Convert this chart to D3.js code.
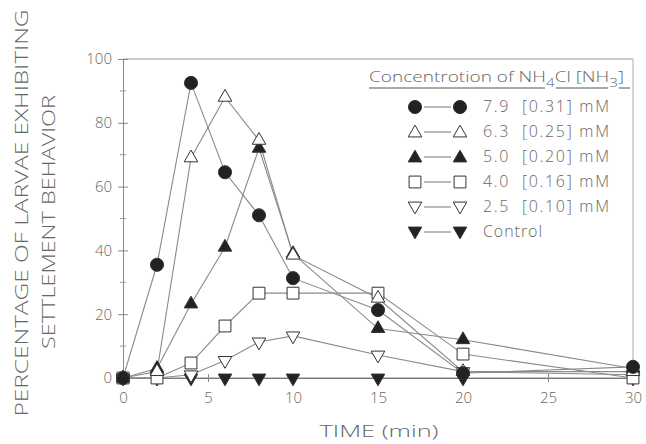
<!DOCTYPE html>
<html><head><meta charset="utf-8">
<script src="https://cdn.jsdelivr.net/npm/d3@7"></script>
<style>
html,body{margin:0;padding:0;background:#fff;}
svg text{font-family:"DejaVu Sans",sans-serif;fill:#5a5a5a;}
svg text.light{font-family:"Open Sans","Lato",sans-serif;font-weight:300;fill:#666;}
</style></head>
<body><svg id="c" width="646" height="444"></svg>
<script>
// ---- data ----
const times = [0, 2, 4, 6, 8, 10, 15, 20, 30];
const s79 = [0, 35.5, 92.5, 64.5, 51, 31.3, 21.3, 1.5, 3.5];
const s63 = [0, 2, 69, 88, 74.5, 38.5, 25, 2, 2];
const s50 = [0, 3, 23.2, 41, 72, 39, 15.5, 12, 3];
const s40 = [0, 0, 4.7, 16.3, 26.6, 26.6, 26.6, 7.5, 0];
const s25 = [0, 0, 1, 5.5, 11.3, 13.2, 7.2, 2, 1];
const sCtrl = [0, 0, 0, 0, 0, 0, 0, 0, 0];
const legendLabels = ["7.9  [0.31] mM", "6.3  [0.25] mM", "5.0  [0.20] mM", "4.0  [0.16] mM", "2.5  [0.10] mM", "Control"];
const xTicks = [0, 5, 10, 15, 20, 25, 30];
const yTicks = [0, 20, 40, 60, 80, 100];
const yMinor = [10, 30, 50, 70, 90];

// layout (not data)
const legendTextWidths = [126, 126, 126, 126, 126, 59];

const series = [
  {vals: s79, sym: d3.symbolCircle, size: 135, fill: "#222", rot: 0},
  {vals: s63, sym: d3.symbolTriangle, size: 80, fill: "#fff", rot: 0},
  {vals: s50, sym: d3.symbolTriangle, size: 80, fill: "#222", rot: 0},
  {vals: s40, sym: d3.symbolSquare, size: 140, fill: "#fff", rot: 0},
  {vals: s25, sym: d3.symbolTriangle, size: 80, fill: "#fff", rot: 180},
  {vals: sCtrl, sym: d3.symbolTriangle, size: 80, fill: "#222", rot: 180}
];

const svg = d3.select("#c");
const x = d3.scaleLinear().domain([0, 30]).range([123, 633]);
const y = d3.scaleLinear().domain([0, 100]).range([378, 59]);

// frame
svg.append("line").attr("x1", x(0)).attr("x2", x(30)).attr("y1", y(100)).attr("y2", y(100)).attr("stroke", "#999").attr("stroke-width", 1);
svg.append("line").attr("x1", x(30)).attr("x2", x(30)).attr("y1", y(100)).attr("y2", y(0)).attr("stroke", "#aaa").attr("stroke-width", 1);

// y axis
const gy = svg.append("g").attr("transform", `translate(${x(0)},0)`);
gy.call(d3.axisLeft(y).tickValues(yTicks).tickSize(5).tickPadding(6).tickFormat(d3.format("d")));
gy.select(".domain").attr("stroke", "#888");
gy.selectAll(".tick line").attr("stroke", "#888").attr("x1", 5);
gy.selectAll(".tick text").attr("class", "light").style("font-size", "15px");
gy.selectAll(".minor").data(yMinor).enter().append("line")
  .attr("x1", -3).attr("x2", 3).attr("y1", d => y(d)).attr("y2", d => y(d)).attr("stroke", "#999");

// x axis
const gx = svg.append("g").attr("transform", `translate(0,${y(0)})`);
gx.call(d3.axisBottom(x).tickValues(xTicks).tickSize(4).tickPadding(10).tickFormat(d3.format("d")));
gx.select(".domain").attr("stroke", "#666");
gx.selectAll(".tick line").attr("stroke", "#888").attr("y1", -4);
gx.selectAll(".tick text").attr("class", "light").style("font-size", "15px");

// lines
const line = d3.line().x((d, i) => x(times[i])).y(d => y(d));
series.forEach(s => {
  svg.append("path").datum(s.vals).attr("d", line)
    .attr("fill", "none").attr("stroke", "#8a8a8a").attr("stroke-width", 1.1);
});

// markers
function drawSym(g, s, cx, cy) {
  g.append("path").attr("d", d3.symbol().type(s.sym).size(s.size)())
    .attr("transform", `translate(${cx},${cy}) rotate(${s.rot})`)
    .attr("fill", s.fill).attr("stroke", "#333").attr("stroke-width", 1);
}
const gm = svg.append("g");
series.slice().reverse().forEach(s => {
  s.vals.forEach((v, i) => drawSym(gm, s, x(times[i]), y(v)));
});

// legend
const lg = svg.append("g");
const title = lg.append("text").attr("class", "light").attr("x", 369).attr("y", 82).style("font-size", "15px");
title.append("tspan").text("Concentrotion of NH");
title.append("tspan").attr("dy", 5).style("font-size", "12px").text("4");
title.append("tspan").attr("dy", -5).text("Cl [NH");
title.append("tspan").attr("dy", 5).style("font-size", "12px").text("3");
title.append("tspan").attr("dy", -5).text("]");
title.attr("textLength", 255).attr("lengthAdjust", "spacingAndGlyphs");
(function () {
  const node = title.node();
  const str = "Concentrotion of NH4Cl [NH3]";
  const subs = [str.indexOf("4"), str.lastIndexOf("3")];
  let segs = [];
  let start = 369;
  subs.forEach(ix => {
    const e = node.getExtentOfChar(ix);
    segs.push([start, e.x - 1]);
    start = e.x + e.width + 1;
  });
  segs.push([start, 630]);
  segs.forEach(sg => lg.append("line").attr("x1", sg[0]).attr("x2", sg[1]).attr("y1", 88).attr("y2", 88).attr("stroke", "#555").attr("stroke-width", 1));
})();

const rowY = [107, 132, 157, 182, 207, 232];
series.forEach((s, i) => {
  const ry = rowY[i];
  lg.append("line").attr("x1", 424).attr("x2", 451).attr("y1", ry).attr("y2", ry).attr("stroke", "#777").attr("stroke-width", 1);
  drawSym(lg, s, 415, ry + (s.sym === d3.symbolTriangle ? (s.rot ? -1 : 1) : 0));
  drawSym(lg, s, 460, ry + (s.sym === d3.symbolTriangle ? (s.rot ? -1 : 1) : 0));
  lg.append("text").attr("class", "light").attr("x", 483).attr("y", ry + 5).style("font-size", "16px")
    .attr("xml:space", "preserve").style("white-space", "pre")
    .attr("textLength", legendTextWidths[i]).attr("lengthAdjust", "spacing").text(legendLabels[i]);
});

// axis titles
svg.append("text").attr("class", "light").attr("x", 379).attr("y", 437).attr("text-anchor", "middle").style("font-size", "17px")
  .attr("textLength", 119).attr("lengthAdjust", "spacingAndGlyphs").text("TIME (min)");
svg.append("text").attr("class", "light").attr("transform", "translate(28,213) rotate(-90)").attr("text-anchor", "middle").style("font-size", "18px")
  .attr("textLength", 407).attr("lengthAdjust", "spacingAndGlyphs").text("PERCENTAGE OF LARVAE EXHIBITING");
svg.append("text").attr("class", "light").attr("transform", "translate(55,222) rotate(-90)").attr("text-anchor", "middle").style("font-size", "18px")
  .attr("textLength", 254).attr("lengthAdjust", "spacingAndGlyphs").text("SETTLEMENT BEHAVIOR");
</script></body></html>
